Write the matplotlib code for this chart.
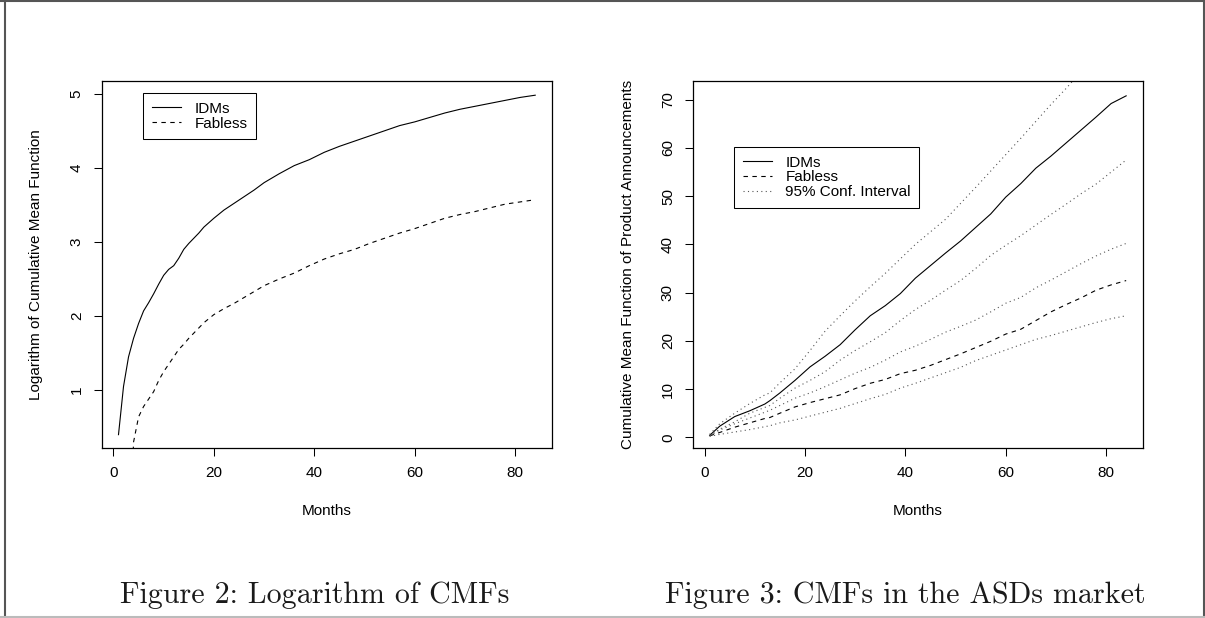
import matplotlib
matplotlib.use("Agg")
import matplotlib.pyplot as plt
from matplotlib.lines import Line2D
import numpy as np

plt.rcParams['font.family'] = ['Liberation Sans', 'DejaVu Sans']

# Figure 2: logarithm of the cumulative mean functions
months_log = [1, 2, 3, 4, 5, 6, 7, 8, 9, 10, 11, 12, 13, 14, 15, 16, 17, 18,
              20, 22, 24, 26, 28, 30, 33, 36, 39, 42, 45, 48, 51, 54, 57, 60,
              63, 66, 69, 72, 75, 78, 81, 84]
log_idm = [0.40, 1.05, 1.45, 1.70, 1.90, 2.07, 2.18, 2.30, 2.43, 2.55, 2.63,
           2.68, 2.78, 2.90, 2.98, 3.05, 3.12, 3.20, 3.32, 3.43, 3.52, 3.61,
           3.70, 3.80, 3.92, 4.03, 4.11, 4.21, 4.29, 4.36, 4.43, 4.50, 4.57,
           4.62, 4.68, 4.74, 4.79, 4.83, 4.87, 4.91, 4.95, 4.98]
log_fabless = [np.nan, np.nan, -1.5, 0.30, 0.64, 0.78, 0.88, 0.98, 1.13, 1.25,
               1.35, 1.45, 1.55, 1.62, 1.70, 1.77, 1.84, 1.91, 2.02, 2.10,
               2.17, 2.25, 2.33, 2.41, 2.50, 2.58, 2.68, 2.77, 2.84, 2.90,
               2.98, 3.05, 3.12, 3.18, 3.25, 3.32, 3.37, 3.41, 3.46, 3.51,
               3.54, 3.57]

# Figure 3: CMFs with 95% confidence bands
months_cmf = [1, 3, 6, 9, 12, 13, 15, 18, 21, 24, 27, 30, 33, 36, 39, 42, 45,
              48, 51, 54, 57, 60, 63, 66, 69, 72, 75, 78, 81, 84]
cmf_idm = [0.4, 2.3, 4.3, 5.5, 6.9, 7.6, 9.2, 11.8, 14.6, 16.8, 19.2, 22.3,
           25.2, 27.3, 29.8, 33.0, 35.6, 38.2, 40.7, 43.5, 46.3, 49.8, 52.6,
           55.8, 58.3, 61.0, 63.7, 66.4, 69.2, 70.8]
cmf_fabless = [0.3, 1.0, 2.1, 3.0, 3.9, 4.1, 5.0, 6.3, 7.2, 8.0, 8.8, 10.1,
               11.2, 12.0, 13.2, 13.9, 14.9, 16.1, 17.3, 18.6, 19.9, 21.4,
               22.4, 24.2, 26.0, 27.5, 28.9, 30.5, 31.6, 32.5]
idm_upper = [0.6, 2.8, 5.0, 7.0, 8.8, 9.2, 11.3, 14.2, 18.0, 22.0, 25.2, 28.3,
             31.2, 34.0, 37.0, 40.0, 42.6, 45.2, 48.5, 51.8, 55.2, 58.6,
             62.0, 65.5, 69.0, 72.3, 75.8, 79.2, 82.5, 85.8]
idm_lower = [0.3, 1.7, 3.2, 5.0, 6.2, 6.6, 8.1, 10.2, 11.8, 13.6, 16.0, 18.0,
             19.8, 21.7, 24.2, 26.5, 28.4, 30.5, 32.5, 35.0, 37.7, 39.8,
             41.8, 44.0, 46.2, 48.3, 50.5, 52.5, 55.0, 57.5]
fab_upper = [0.4, 1.5, 2.8, 4.0, 5.2, 5.6, 6.6, 8.1, 9.2, 10.5, 11.9, 13.3,
             14.5, 16.0, 17.7, 18.9, 20.3, 21.8, 23.0, 24.3, 26.0, 27.8,
             29.0, 31.0, 32.6, 34.3, 36.0, 37.6, 39.0, 40.2]
fab_lower = [0.2, 0.6, 1.1, 1.6, 2.2, 2.4, 3.0, 3.6, 4.4, 5.2, 6.0, 7.0, 8.0,
             8.9, 10.2, 11.2, 12.3, 13.4, 14.5, 15.9, 17.0, 18.1, 19.2, 20.3,
             21.1, 22.0, 22.9, 23.8, 24.6, 25.2]

lw = 0.8
dash = (0, (4, 4))
dot = (0, (1, 3))
fs = 11

fig = plt.figure(figsize=(12.05, 6.18), dpi=100)
ax1 = fig.add_axes([0.0845, 0.2746, 0.3735, 0.5939])
ax2 = fig.add_axes([0.5751, 0.2746, 0.3733, 0.5939])

ax1.plot(months_log, log_idm, color='black', lw=lw, label='IDMs')
ax1.plot(months_log, log_fabless, color='black', lw=lw, linestyle=dash, label='Fabless')
ax1.set_xlim(-2.32, 87.32)
ax1.set_ylim(0.216, 5.168)
ax1.set_yticks([1, 2, 3, 4, 5])
ax1.set_ylabel('Logarithm of Cumulative Mean Function', fontsize=fs, labelpad=19)

ax2.plot(months_cmf, cmf_idm, color='black', lw=lw, label='IDMs')
ax2.plot(months_cmf, cmf_fabless, color='black', lw=lw, linestyle=dash, label='Fabless')
ax2.plot(months_cmf, idm_upper, color='#555555', lw=lw, linestyle=dot, label='95% Conf. Interval')
ax2.plot(months_cmf, idm_lower, color='#555555', lw=lw, linestyle=dot)
ax2.plot(months_cmf, fab_upper, color='#555555', lw=lw, linestyle=dot)
ax2.plot(months_cmf, fab_lower, color='#555555', lw=lw, linestyle=dot)
ax2.set_xlim(-2.32, 87.32)
ax2.set_ylim(-2.28, 73.82)
ax2.set_yticks(range(0, 80, 10))
ax2.set_ylabel('Cumulative Mean Function of Product Announcements', fontsize=fs, labelpad=19)

for ax in (ax1, ax2):
    ax.set_xticks([0, 20, 40, 60, 80])
    ax.set_xlabel('Months', fontsize=fs, labelpad=17)
    ax.tick_params(direction='out', length=6, width=0.75, labelsize=fs, pad=7)
    ax.tick_params(axis='y', labelrotation=90)
    for lbl in ax.get_yticklabels():
        lbl.set_va('center')
    for sp in ax.spines.values():
        sp.set_linewidth(0.9)

leg1 = ax1.legend(loc='upper left', bbox_to_anchor=(0.0926, 0.967), borderaxespad=0,
                  fancybox=False, edgecolor='black', framealpha=1, fontsize=fs,
                  handlelength=1.9, handletextpad=0.9, labelspacing=0.05, borderpad=0.55)
leg1.get_frame().set_linewidth(0.75)
leg2 = ax2.legend(loc='upper left', bbox_to_anchor=(0.0918, 0.820), borderaxespad=0,
                  fancybox=False, edgecolor='black', framealpha=1, fontsize=fs,
                  handlelength=1.9, handletextpad=0.9, labelspacing=0.05, borderpad=0.55)
leg2.get_frame().set_linewidth(0.75)

fig.text(314.5 / 1205, 1 - 602.7 / 618, 'Figure 2: Logarithm of CMFs', fontfamily='cmr10',
         fontsize=21.6, ha='center', va='baseline', color='#1a1a1a')
fig.text(905 / 1205, 1 - 602.7 / 618, 'Figure 3: CMFs in the ASDs market', fontfamily='cmr10',
         fontsize=21.6, ha='center', va='baseline', color='#1a1a1a')

# page frame
W, H = 1205, 618
frame = [((5, 5), (0, H), '#555555'), ((0, W), (1, 1), '#555555'),
         ((1204, 1204), (0, H), '#555555'), ((0, W), (617, 617), '#bbbbbb')]
for xs, ys, c in frame:
    fig.add_artist(Line2D([x / W for x in xs], [1 - y / H for y in ys],
                          transform=fig.transFigure, color=c, lw=1.5))

fig.savefig('out.png', dpi=100)
